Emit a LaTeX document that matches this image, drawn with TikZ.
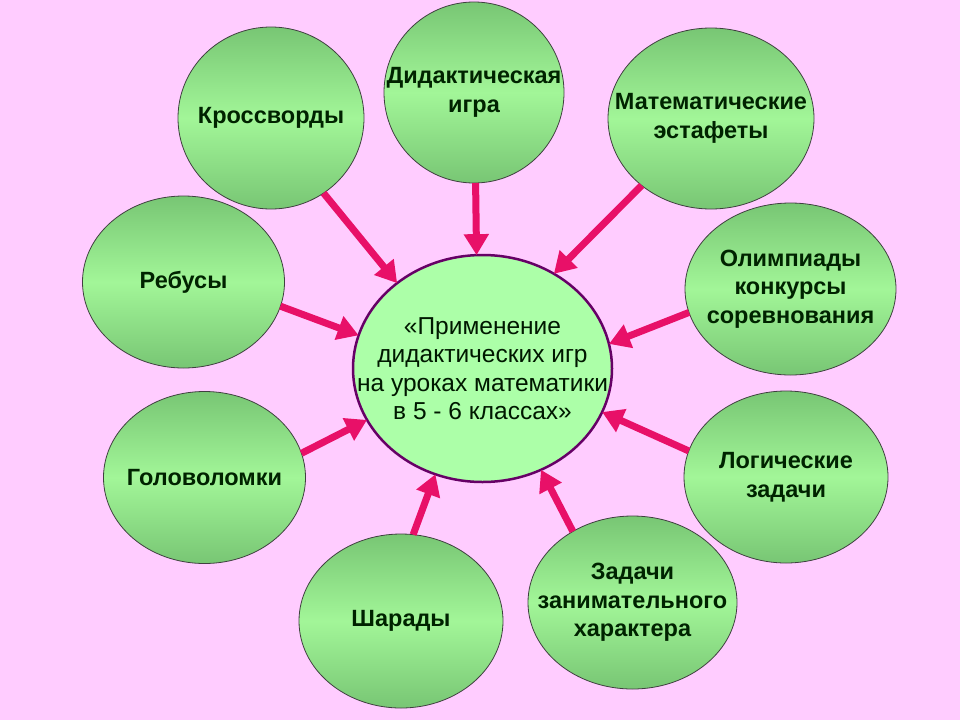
\documentclass[tikz,border=0pt]{standalone}
\usepackage{fontspec}
\setmainfont{Liberation Sans}
\usetikzlibrary{shapes.geometric,arrows.meta}
\definecolor{bg}{RGB}{255,204,255}
\definecolor{gdark}{RGB}{120,198,116}
\definecolor{glight}{RGB}{162,246,152}
\definecolor{cfill}{RGB}{172,255,168}
\definecolor{cborder}{RGB}{102,0,102}
\definecolor{arrowc}{RGB}{232,16,104}
\definecolor{txt}{RGB}{0,35,0}
\begin{document}
\begin{tikzpicture}[x=1pt,y=-1pt,
  bub/.style={ellipse, draw=black!75, line width=0.8pt, top color=gdark, bottom color=gdark, middle color=glight, inner sep=0pt, outer sep=0pt},
  hub/.style={ellipse, draw=cborder, line width=2.5pt, fill=cfill, inner sep=0pt, outer sep=0pt},
  lbl/.style={font=\fontsize{23.5}{28.5}\selectfont\bfseries, text=txt, align=center, inner sep=0pt},
  hublbl/.style={font=\fontsize{24.5}{28.5}\selectfont, text=txt!70!black, align=center, inner sep=0pt},
  arr/.style={draw=arrowc, line width=7pt, -{Triangle[width=24pt,length=21pt]}}]
\useasboundingbox (0,0) rectangle (960,720);
\fill[bg] (0,0) rectangle (960,720);

\node[hub, minimum width=259pt, minimum height=227pt] (hub) at (482.5,368.5) {};
\node[hublbl] (hubt) at (hub) {«Применение\\дидактических игр\\на уроках математики\\в 5 - 6 классах»};

\node[bub, minimum width=186pt, minimum height=182pt] (kros) at (271,118) {};
\node[bub, minimum width=180pt, minimum height=181pt] (did) at (474,92.5) {};
\node[bub, minimum width=206pt, minimum height=181pt] (mat) at (711,118.5) {};
\node[bub, minimum width=202pt, minimum height=172pt] (reb) at (183.5,282) {};
\node[bub, minimum width=211pt, minimum height=172pt] (olym) at (790.5,289) {};
\node[bub, minimum width=202pt, minimum height=172pt] (golo) at (204.5,477.5) {};
\node[bub, minimum width=204pt, minimum height=172pt] (logi) at (786,477) {};
\node[bub, minimum width=204pt, minimum height=174pt] (shar) at (401,621) {};
\node[bub, minimum width=209pt, minimum height=173pt] (zad) at (632.5,602.5) {};

\node[lbl] (krost) at (kros) {Кроссворды};
\node[lbl] (didt) at (did) {Дидактическая\\игра};
\node[lbl] (matt) at (mat) {Математические\\эстафеты};
\node[lbl] (rebt) at (reb) {Ребусы};
\node[lbl] (olymt) at (olym) {Олимпиады\\конкурсы\\соревнования};
\node[lbl] (golot) at (golo) {Головоломки};
\node[lbl] (logit) at (logi) {Логические\\задачи};
\node[lbl] (shart) at (shar) {Шарады};
\node[lbl] (zadt) at (zad) {Задачи\\занимательного\\характера};

\draw[arr] (kros.-55.8) -- (hub.135.3);
\draw[arr] (did.-89) -- (hub.93.3);
\draw[arr] (mat.-136.5) -- (hub.53.3);
\draw[arr] (reb.-14.8) -- (hub.165.9);
\draw[arr] (golo.14.7) -- (hub.204.1);
\draw[arr] (olym.193.2) -- (hub.11);
\draw[arr] (logi.165.7) -- (hub.-20.3);
\draw[arr] (shar.82.9) -- (hub.246.4);
\draw[arr] (zad.130.8) -- (hub.-60.8);
\end{tikzpicture}
\end{document}
